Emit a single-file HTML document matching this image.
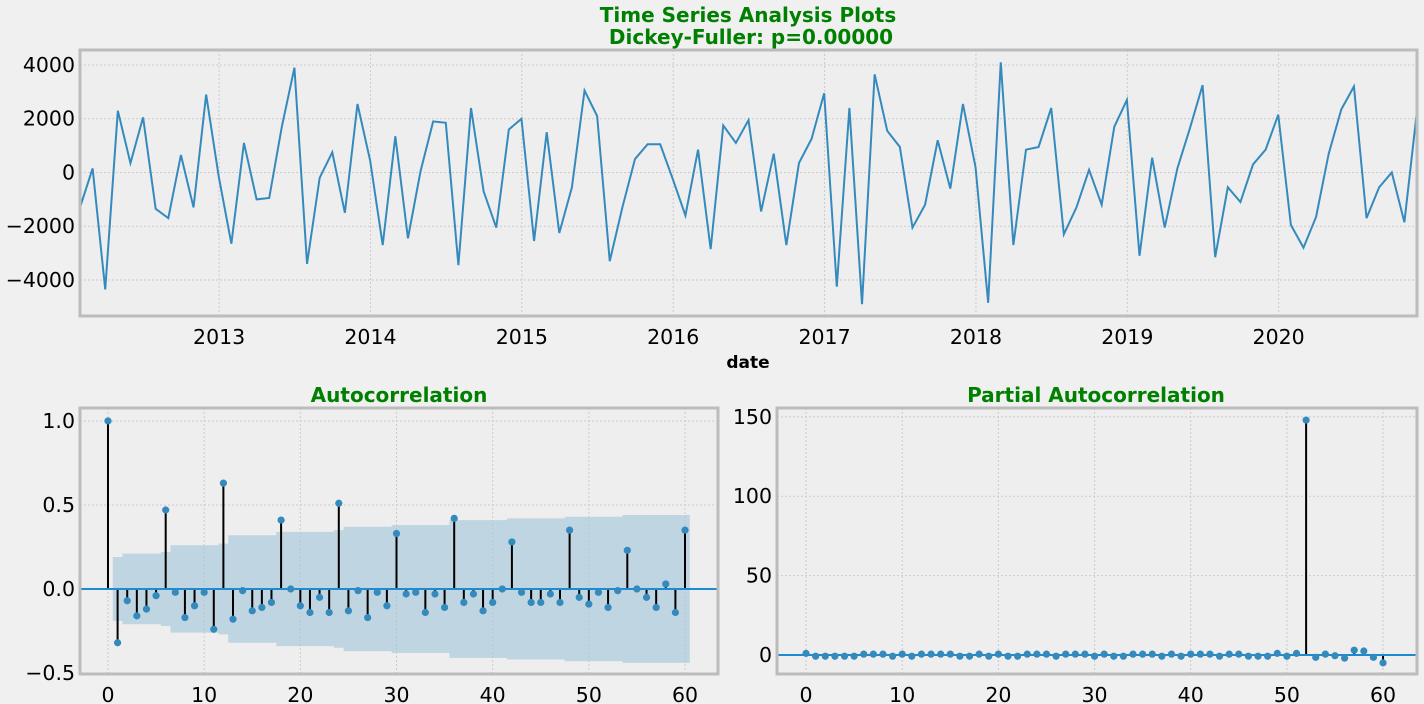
<!DOCTYPE html>
<html><head><meta charset="utf-8">
<style>
html,body{margin:0;padding:0;background:#f0f0f0;}
svg{display:block;font-family:"DejaVu Sans","Liberation Sans",sans-serif;}
</style></head>
<body>
<svg id="fig" width="1424" height="704" viewBox="0 0 1424 704" xmlns="http://www.w3.org/2000/svg">
<rect width="1424" height="704" fill="#f0f0f0"/>
<text x="748" y="22" text-anchor="middle" font-size="20" font-weight="bold" fill="#008000">Time Series Analysis Plots</text>
<text x="751" y="44" text-anchor="middle" font-size="20" font-weight="bold" fill="#008000">Dickey-Fuller: p=0.00000</text>
<text x="748" y="368" text-anchor="middle" font-size="17" font-weight="bold" fill="#000">date</text>
<text x="399" y="402" text-anchor="middle" font-size="20" font-weight="bold" fill="#008000">Autocorrelation</text>
<text x="1096" y="402" text-anchor="middle" font-size="20" font-weight="bold" fill="#008000">Partial Autocorrelation</text>
</svg>
<script>
const tsValues=[-1300,150,-4350,2300,350,2050,-1350,-1700,650,-1300,2900,
-150,-2650,1100,-1000,-950,1700,3900,-3400,-200,750,-1500,2550,
450,-2700,1350,-2450,50,1900,1850,-3450,2400,-700,-2050,1600,
2000,-2550,1500,-2250,-550,3050,2100,-3300,-1300,500,1050,1050,
-250,-1600,850,-2850,1750,1100,1950,-1450,700,-2700,350,1250,
2950,-4250,2400,-4900,3650,1550,950,-2050,-1200,1200,-600,2550,
200,-4850,4100,-2700,850,950,2400,-2300,-1300,100,-1200,1700,
2700,-3100,550,-2050,150,1650,3250,-3150,-550,-1100,300,850,
2150,-1950,-2800,-1650,700,2350,3200,-1700,-550,0,-1850,2300];
const tsYTicks=[-4000,-2000,0,2000,4000];
const yearTicks=[2013,2014,2015,2016,2017,2018,2019,2020];
const acfValues=[1.0,-0.32,-0.07,-0.16,-0.12,-0.04,0.47,-0.02,-0.17,-0.1,-0.02,-0.24,0.63,-0.18,-0.01,-0.13,-0.11,-0.08,0.41,0,-0.1,-0.14,-0.05,-0.14,0.51,-0.13,-0.01,-0.17,-0.02,-0.1,0.33,-0.03,-0.02,-0.14,-0.03,-0.11,0.42,-0.08,-0.03,-0.13,-0.08,0,0.28,-0.02,-0.08,-0.08,-0.03,-0.08,0.35,-0.05,-0.09,-0.02,-0.11,-0.01,0.23,0,-0.05,-0.11,0.03,-0.14,0.35];
const acfBand=[0.19,0.19,0.21,0.21,0.21,0.21,0.22,0.26,0.26,0.26,0.26,0.26,0.27,0.32,0.32,0.32,0.32,0.32,0.34,0.34,0.34,0.34,0.34,0.34,0.35,0.37,0.37,0.37,0.37,0.37,0.38,0.38,0.38,0.38,0.38,0.38,0.41,0.41,0.41,0.41,0.41,0.41,0.42,0.42,0.42,0.42,0.42,0.42,0.43,0.43,0.43,0.43,0.43,0.43,0.44,0.44,0.44,0.44,0.44,0.44,0.44];
const acfYTicks=[-0.5,0.0,0.5,1.0];
const lagTicks=[0,10,20,30,40,50,60];
const pacfValues=[1,-0.8,-0.8,-0.8,-0.8,-0.8,0.5,0.5,0.5,-0.8,0.5,-0.8,0.5,0.5,0.5,0.5,-0.8,-0.8,0.5,-0.8,0.5,-0.8,-0.8,0.5,0.5,0.5,-0.8,0.5,0.5,0.5,-0.8,0.5,-0.8,-0.8,0.5,0.5,0.5,-0.8,0.5,-0.8,0.5,0.5,0.5,-0.8,0.5,0.5,-0.8,-0.8,-0.8,1,-0.8,1,148,-1.5,0.5,-0.5,-2,3,2.5,-1.5,-5];
const pacfYTicks=[0,50,100,150];

const NS='http://www.w3.org/2000/svg';
const svg=document.getElementById('fig');
function mk(tag,attrs,parent){const e=document.createElementNS(NS,tag);for(const k in attrs)e.setAttribute(k,attrs[k]);(parent||svg).appendChild(e);return e;}
function scale(d0,d1,r0,r1){return v=>r0+(v-d0)*(r1-r0)/(d1-d0);}

function axesFrame(L,T,R,B,name){
  const r=mk('rect',{x:L,y:T,width:R-L,height:B-T,fill:'#eeeeee'});
  
  
}
function axesBorder(L,T,R,B,name){
  const r=mk('rect',{x:L,y:T,width:R-L,height:B-T,fill:'none',stroke:'#bcbcbc','stroke-width':3});
  
  
}
function gridAndTicks(L,T,R,B,xs,ys,xt,yt,xl,yl,name){
  xt.forEach((v,i)=>{const x=xs(v);
    const g=mk('line',{x1:x,x2:x,y1:T,y2:B,stroke:'#cbcbcb','stroke-width':1,'stroke-dasharray':'2,2'});
    
    
    const t=mk('text',{x:x,y:B+28,'text-anchor':'middle','font-size':20.5,fill:'#000'});t.textContent=xl[i];
    
    
  });
  yt.forEach((v,i)=>{const y=ys(v);
    const g=mk('line',{x1:L,x2:R,y1:y,y2:y,stroke:'#cbcbcb','stroke-width':1,'stroke-dasharray':'2,2'});
    
    
    const t=mk('text',{x:L-5,y:y+7,'text-anchor':'end','font-size':20.5,fill:'#000'});t.textContent=yl[i];
    
    
  });
}

(function(){
  const L=80,T=50,R=1417,B=316,n=tsValues.length;
  const xs=scale(0,n-1,L,R), ys=scale(-5340,4558,B,T);
  axesFrame(L,T,R,B,'timeseries');
  const xt=yearTicks.map(y=>(y-2012)*12-0.97);
  gridAndTicks(L,T,R,B,xs,ys,xt,tsYTicks,yearTicks.map(String),tsYTicks.map(v=>v<0?'\u2212'+(-v):String(v)),'timeseries');
  const p=mk('polyline',{points:tsValues.map((v,i)=>xs(i)+','+ys(v)).join(' '),fill:'none',stroke:'#348abd','stroke-width':2});
  
  
  axesBorder(L,T,R,B,'timeseries');
})();

function stemPlot(L,T,R,B,vals,xd,yd,yt,ylab,name,band){
  const xs=scale(xd[0],xd[1],L,R), ys=scale(yd[0],yd[1],B,T);
  axesFrame(L,T,R,B,name);
  gridAndTicks(L,T,R,B,xs,ys,lagTicks,yt,lagTicks.map(String),ylab,name);
  if(band){
    let up=[],lo=[];
    band.forEach((b,i)=>{if(i===0)return;const x0=xs(i-0.5),x1=xs(i+0.5);up.push(x0+','+ys(b),x1+','+ys(b));lo.unshift(x1+','+ys(-b),x0+','+ys(-b));});
    const pg=mk('polygon',{points:up.concat(lo).join(' '),fill:'#a6c8dc',opacity:0.65});
    
    
  }
  vals.forEach((v,i)=>{
    const s=mk('line',{x1:xs(i),x2:xs(i),y1:ys(0),y2:ys(v),stroke:'#000','stroke-width':2});
    
    
  });
  const z=mk('line',{x1:L,x2:R,y1:ys(0),y2:ys(0),stroke:'#1f8bcf','stroke-width':2});
  
  
  vals.forEach((v,i)=>{
    const c=mk('circle',{cx:xs(i),cy:ys(v),r:3.6,fill:'#348abd'});
    
    
  });
  axesBorder(L,T,R,B,name);
}
stemPlot(80,408,718,674,acfValues,[-2.91,63.43],[-0.506,1.077],acfYTicks,['\u22120.5','0.0','0.5','1.0'],'acf',acfBand);
stemPlot(777,408,1417,674,pacfValues,[-3.02,63.53],[-12,155.6],pacfYTicks,pacfYTicks.map(String),'pacf',null);
</script>
</body></html>
